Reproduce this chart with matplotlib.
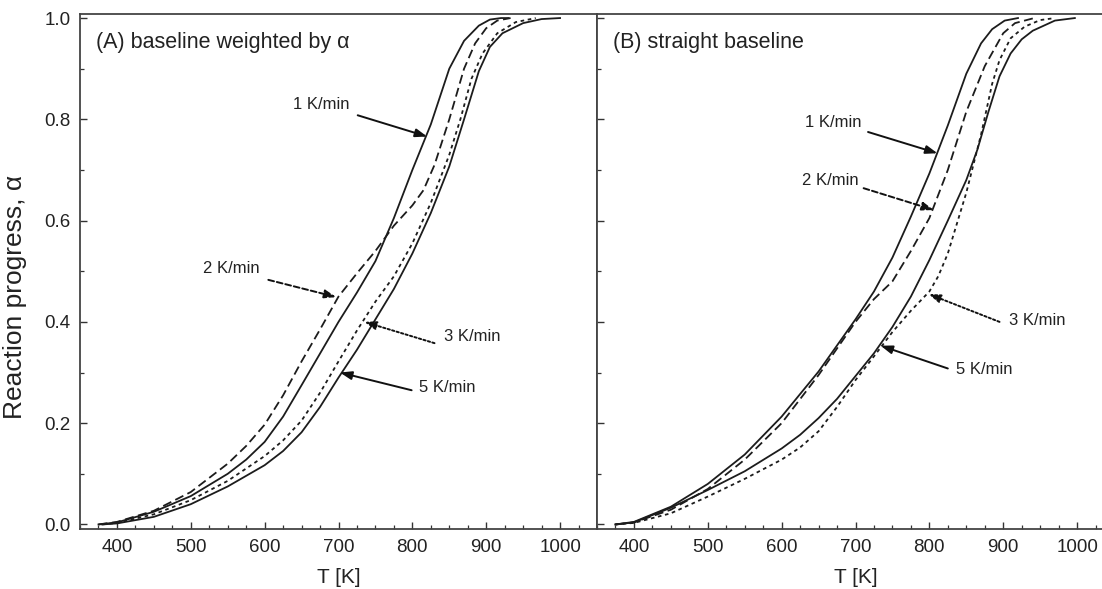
import matplotlib.pyplot as plt
from matplotlib.ticker import MultipleLocator, FormatStrFormatter

plt.rcParams['font.family'] = ['Liberation Sans', 'DejaVu Sans']

# (A) baseline weighted by alpha
t_a_1k = [375, 400, 450, 500, 550, 575, 600, 625, 650, 700, 725, 750, 775, 800, 825, 850, 870, 890, 905, 920, 930]
a_a_1k = [0, 0.004, 0.025, 0.056, 0.1, 0.128, 0.163, 0.213, 0.275, 0.4, 0.458, 0.52, 0.605, 0.7, 0.79, 0.9, 0.955, 0.985, 0.997, 1.0, 1.0]
t_a_2k = [375, 400, 450, 500, 550, 575, 600, 625, 650, 675, 700, 725, 750, 775, 800, 815, 830, 850, 870, 885, 900, 915, 933]
a_a_2k = [0, 0.005, 0.027, 0.064, 0.12, 0.155, 0.197, 0.255, 0.322, 0.385, 0.45, 0.496, 0.54, 0.59, 0.63, 0.66, 0.71, 0.8, 0.9, 0.95, 0.98, 0.995, 1.0]
t_a_3k = [380, 400, 450, 500, 550, 600, 625, 650, 675, 700, 725, 750, 775, 800, 825, 850, 865, 880, 895, 915, 940, 967]
a_a_3k = [0, 0.003, 0.02, 0.048, 0.086, 0.135, 0.166, 0.205, 0.26, 0.322, 0.383, 0.44, 0.49, 0.555, 0.635, 0.73, 0.8, 0.88, 0.93, 0.97, 0.992, 1.0]
t_a_5k = [380, 400, 450, 500, 550, 600, 625, 650, 675, 700, 725, 750, 775, 800, 825, 850, 870, 890, 905, 922, 950, 975, 1000]
a_a_5k = [0, 0.002, 0.015, 0.04, 0.075, 0.117, 0.145, 0.182, 0.232, 0.29, 0.345, 0.405, 0.465, 0.535, 0.615, 0.707, 0.8, 0.895, 0.943, 0.97, 0.99, 0.998, 1.0]

# (B) straight baseline
t_b_1k = [375, 400, 450, 500, 550, 600, 650, 700, 725, 750, 775, 800, 825, 850, 870, 885, 902, 920]
a_b_1k = [0, 0.005, 0.035, 0.08, 0.138, 0.213, 0.302, 0.405, 0.46, 0.527, 0.608, 0.693, 0.788, 0.89, 0.95, 0.978, 0.995, 1.0]
t_b_2k = [375, 400, 450, 500, 550, 600, 650, 700, 725, 750, 775, 800, 825, 850, 875, 900, 916, 942]
a_b_2k = [0, 0.004, 0.029, 0.07, 0.128, 0.2, 0.295, 0.4, 0.445, 0.48, 0.54, 0.605, 0.7, 0.815, 0.905, 0.97, 0.99, 1.0]
t_b_3k = [375, 400, 450, 500, 550, 600, 625, 650, 675, 700, 725, 750, 775, 800, 812, 825, 850, 870, 885, 895, 910, 929, 950, 970]
a_b_3k = [0, 0.003, 0.022, 0.055, 0.09, 0.128, 0.152, 0.184, 0.232, 0.285, 0.332, 0.38, 0.422, 0.46, 0.49, 0.535, 0.655, 0.77, 0.87, 0.917, 0.96, 0.983, 0.996, 1.0]
t_b_5k = [375, 400, 450, 500, 550, 600, 625, 650, 675, 700, 725, 750, 775, 800, 825, 850, 865, 880, 895, 910, 925, 940, 970, 997]
a_b_5k = [0, 0.004, 0.033, 0.068, 0.105, 0.15, 0.177, 0.21, 0.248, 0.293, 0.338, 0.39, 0.45, 0.522, 0.6, 0.68, 0.74, 0.815, 0.885, 0.93, 0.958, 0.975, 0.995, 1.0]

rates = ['1 K/min', '2 K/min', '3 K/min', '5 K/min']
styles = ['-', (0, (5, 2.5)), (0, (2, 2)), '-']
arrow_styles = ['-', (0, (3, 1.5)), (0, (1.2, 1.2)), '-']

# label text position, arrow start, arrow tip  (T, alpha)
labels_a = [((676, 0.829), (726, 0.808), (820, 0.766)),
            ((555, 0.506), (605, 0.483), (697, 0.449)),
            ((881, 0.372), (830, 0.358), (735, 0.400)),
            ((847, 0.270), (799, 0.265), (702, 0.300))]
labels_b = [((670, 0.794), (717, 0.775), (811, 0.733)),
            ((666, 0.680), (711, 0.664), (806, 0.621)),
            ((946, 0.402), (895, 0.400), (799, 0.455)),
            ((874, 0.306), (825, 0.308), (734, 0.353))]

panels = [
    ('(A) baseline weighted by α', [(t_a_1k, a_a_1k), (t_a_2k, a_a_2k), (t_a_3k, a_a_3k), (t_a_5k, a_a_5k)], labels_a),
    ('(B) straight baseline', [(t_b_1k, a_b_1k), (t_b_2k, a_b_2k), (t_b_3k, a_b_3k), (t_b_5k, a_b_5k)], labels_b),
]

fig = plt.figure(figsize=(11.02, 5.89), dpi=100)
W, H = 1102, 589
ax_a = fig.add_axes([80 / W, 60 / H, 517 / W, 515 / H])
ax_b = fig.add_axes([597 / W, 60 / H, 517 / W, 515 / H])

line_col = '#1c1c1c'
for ax, (title, curves, labels) in zip([ax_a, ax_b], panels):
    for (t, a), ls in zip(curves, styles):
        ax.plot(t, a, color=line_col, lw=1.3, linestyle=ls)
    for rate, (txt, start, tip), als in zip(rates, labels, arrow_styles):
        ax.text(txt[0], txt[1], rate, fontsize=12, ha='center', va='center', color='#222222')
        ax.annotate('', xy=tip, xytext=start,
                    arrowprops=dict(arrowstyle='-|>,head_length=0.7,head_width=0.25',
                                    color='#111111', lw=1.4, linestyle=als,
                                    shrinkA=0, shrinkB=0))
    ax.text(372, 0.952, title, fontsize=15.5, ha='left', va='center', color='#222222')

    ax.set_xlim(350, 1050)
    ax.set_ylim(-0.009, 1.008)
    ax.xaxis.set_major_locator(MultipleLocator(100))
    ax.xaxis.set_minor_locator(MultipleLocator(25))
    ax.yaxis.set_major_locator(MultipleLocator(0.2))
    ax.yaxis.set_minor_locator(MultipleLocator(0.1))
    ax.yaxis.set_major_formatter(FormatStrFormatter('%.1f'))
    ax.tick_params(which='major', direction='in', length=5, width=1, colors='#333333',
                   labelsize=13.5, labelcolor='#222222', pad=7, top=False, right=False)
    ax.tick_params(which='minor', direction='in', length=3, width=0.9, colors='#333333',
                   top=False, right=False)
    for s in ax.spines.values():
        s.set_color('#444444')
        s.set_linewidth(1.3)
    ax.set_xlabel('T [K]', fontsize=15, color='#222222')
    ax.xaxis.set_label_coords(0.5, -0.075)

ax_a.set_ylabel('Reaction progress, α', fontsize=19, color='#222222')
ax_a.yaxis.set_label_coords(-0.102, 0.45)
ax_b.tick_params(labelleft=False)

fig.savefig('out.png', dpi=100)
